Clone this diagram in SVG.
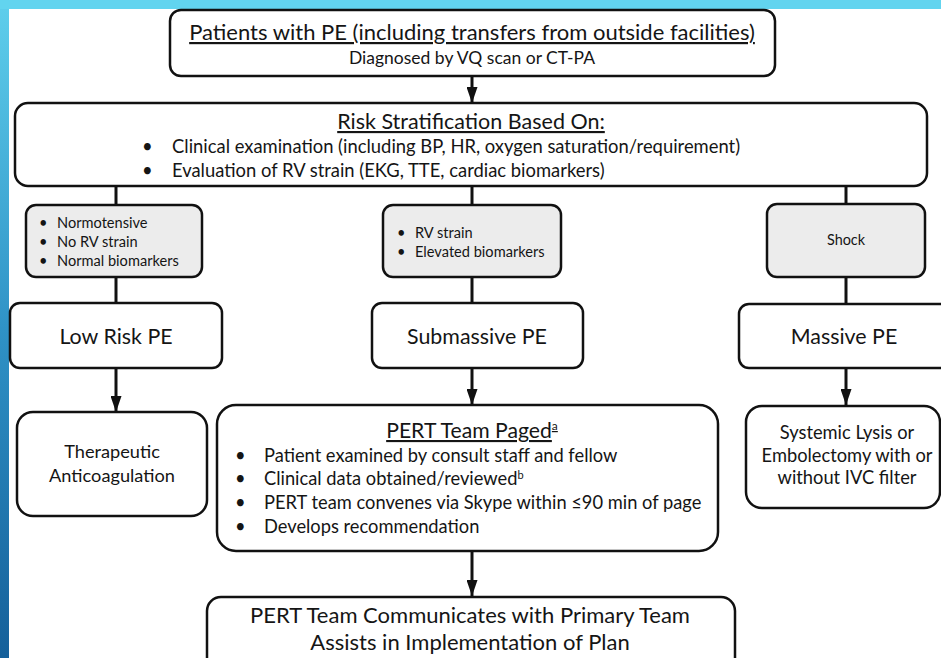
<svg xmlns="http://www.w3.org/2000/svg" width="941" height="658" viewBox="0 0 941 658">
<defs>
<linearGradient id="side" x1="0" y1="0" x2="0" y2="1">
<stop offset="0" stop-color="#5fcfec"/>
<stop offset="0.5" stop-color="#2f92c6"/>
<stop offset="1" stop-color="#15609a"/>
</linearGradient>
<marker id="arr" markerUnits="userSpaceOnUse" markerWidth="16" markerHeight="11" refX="16" refY="5.5" orient="auto">
<path d="M0,0 L16,5.5 L0,11 Z" fill="#111"/>
</marker>
<style>
.box{fill:#fff;stroke:#111;stroke-width:2.5}
.gray{fill:#ececec;stroke:#111;stroke-width:2.5}
.t{font-family:Lato,"Liberation Sans",sans-serif;fill:#151515}
.c{text-anchor:middle}
.u{text-decoration:underline}
.ln{stroke:#111;stroke-width:3;fill:none}
</style>
</defs>
<rect x="0" y="0" width="941" height="658" fill="#fff"/>
<rect x="0" y="0" width="9" height="658" fill="url(#side)"/>
<rect x="0" y="0" width="941" height="9" fill="#62d4ef"/>
<g id="connectors">
<line class="ln" x1="472" y1="77" x2="472" y2="103" marker-end="url(#arr)"/>
<line class="ln" x1="116" y1="186" x2="116" y2="205"/>
<line class="ln" x1="472" y1="186" x2="472" y2="205"/>
<line class="ln" x1="846" y1="186" x2="846" y2="204"/>
<line class="ln" x1="116" y1="277" x2="116" y2="303"/>
<line class="ln" x1="472" y1="277" x2="472" y2="303"/>
<line class="ln" x1="846" y1="277" x2="846" y2="304"/>
<line class="ln" x1="116" y1="368" x2="116" y2="412" marker-end="url(#arr)"/>
<line class="ln" x1="472" y1="368" x2="472" y2="405" marker-end="url(#arr)"/>
<line class="ln" x1="846" y1="368" x2="846" y2="405" marker-end="url(#arr)"/>
<line class="ln" x1="472" y1="551" x2="472" y2="596" marker-end="url(#arr)"/>
</g>
<g id="patients">
<rect class="box" x="170" y="10" width="605" height="66" rx="11"/>
<text class="t c u" x="472" y="40" font-size="22">Patients with PE (including transfers from outside facilities)</text>
<text class="t c" x="472" y="64" font-size="17.5">Diagnosed by VQ scan or CT-PA</text>
</g>
<g id="risk">
<rect class="box" x="15" y="103" width="912" height="83" rx="13"/>
<text class="t c u" x="471" y="129" font-size="21.5">Risk Stratification Based On:</text>
<text class="t" x="142" y="153" font-size="18.4">•</text>
<text class="t" x="172" y="153" font-size="18.4">Clinical examination (including BP, HR, oxygen saturation/requirement)</text>
<text class="t" x="142" y="177" font-size="18.4">•</text>
<text class="t" x="172" y="177" font-size="18.4">Evaluation of RV strain (EKG, TTE, cardiac biomarkers)</text>
</g>
<g id="low-criteria">
<rect class="gray" x="26" y="205" width="176" height="72" rx="10"/>
<text class="t" font-size="14.6"><tspan x="39" y="228">•</tspan><tspan x="57" y="228">Normotensive</tspan><tspan x="39" y="247">•</tspan><tspan x="57" y="247">No RV strain</tspan><tspan x="39" y="266">•</tspan><tspan x="57" y="266">Normal biomarkers</tspan></text>
</g>
<g id="sub-criteria">
<rect class="gray" x="383" y="205" width="178" height="72" rx="10"/>
<text class="t" font-size="14.6"><tspan x="397" y="238">•</tspan><tspan x="415" y="238">RV strain</tspan><tspan x="397" y="257">•</tspan><tspan x="415" y="257">Elevated biomarkers</tspan></text>
</g>
<g id="massive-criteria">
<rect class="gray" x="767" y="204" width="158" height="73" rx="10"/>
<text class="t c" x="846" y="245" font-size="14.4">Shock</text>
</g>
<g id="low-risk">
<rect class="box" x="10" y="303" width="212" height="65" rx="10"/>
<text class="t c" x="116" y="344" font-size="21.4">Low Risk PE</text>
</g>
<g id="submassive">
<rect class="box" x="372" y="303" width="211" height="65" rx="10"/>
<text class="t c" x="477" y="344" font-size="21.4">Submassive PE</text>
</g>
<g id="massive">
<rect class="box" x="739" y="304" width="215" height="64" rx="10"/>
<text class="t c" x="844" y="344" font-size="21.4">Massive PE</text>
</g>
<g id="anticoag">
<rect class="box" x="17" y="412" width="190" height="104" rx="16"/>
<text class="t c" font-size="18.2"><tspan x="112" y="458">Therapeutic</tspan><tspan x="112" y="482">Anticoagulation</tspan></text>
</g>
<g id="pert">
<rect class="box" x="217" y="405" width="501" height="146" rx="19"/>
<text class="t c u" x="472" y="438" font-size="21.2">PERT Team Paged<tspan font-size="12" dy="-8">a</tspan></text>
<text class="t" font-size="18.3"><tspan x="235" y="462">•</tspan><tspan x="264" y="462">Patient examined by consult staff and fellow</tspan><tspan x="235" y="485">•</tspan><tspan x="264" y="485">Clinical data obtained/reviewed</tspan><tspan font-size="11" dy="-6">b</tspan><tspan x="235" y="509">•</tspan><tspan x="264" y="509">PERT team convenes via Skype within ≤90 min of page</tspan><tspan x="235" y="533">•</tspan><tspan x="264" y="533">Develops recommendation</tspan></text>
</g>
<g id="systemic">
<rect class="box" x="746" y="406" width="194" height="102" rx="16"/>
<text class="t c" font-size="18.3"><tspan x="847" y="439">Systemic Lysis or</tspan><tspan x="847" y="462">Embolectomy with or</tspan><tspan x="847" y="484">without IVC filter</tspan></text>
</g>
<g id="communicate">
<rect class="box" x="207" y="597" width="528" height="80" rx="14"/>
<text class="t c" font-size="22"><tspan x="470" y="623">PERT Team Communicates with Primary Team</tspan><tspan x="470" y="650">Assists in Implementation of Plan</tspan></text>
</g>
</svg>
